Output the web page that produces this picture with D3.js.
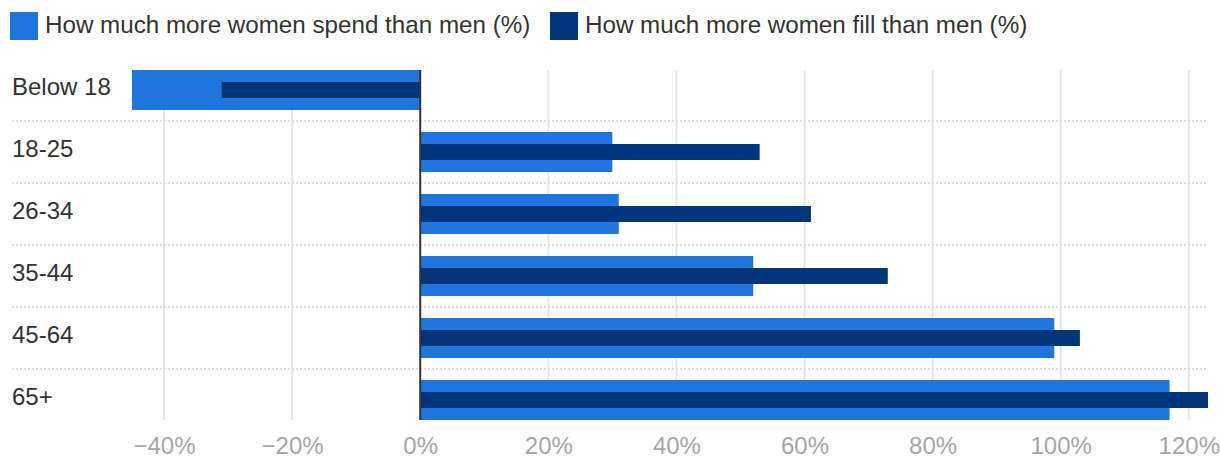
<!DOCTYPE html>
<html>
<head>
<meta charset="utf-8">
<script src="https://cdn.jsdelivr.net/npm/d3@7"></script>
<style>
  body { margin: 0; background: #fff; }
  svg { display: block; font-family: "Liberation Sans", Arial, Helvetica, sans-serif; }
</style>
</head>
<body>
<svg id="chart" width="1220" height="464"></svg>
<script>
const ageGroups = ["Below 18", "18-25", "26-34", "35-44", "45-64", "65+"]
const spendMore = [-45, 30, 31, 52, 99, 117]
const fillMore = [-31, 53, 61, 73, 103, 123]
const tickValues = [-40, -20, 0, 20, 40, 60, 80, 100, 120]
const seriesNames = ["How much more women spend than men (%)", "How much more women fill than men (%)"]

const lightBlue = "#1f77dd"
const darkBlue = "#02367a"

var svg = d3.select("#chart")

let allValues = spendMore.concat(fillMore)
let x = d3
  .scaleLinear()
  .domain([d3.min(allValues), d3.max(allValues)])
  .range([132, 1208])

// step of 62px, bars 40px tall
let y = d3
  .scaleBand()
  .domain(ageGroups)
  .range([59, 431])
  .paddingInner(22 / 62)
  .paddingOuter(11 / 62)

let plotTop = y(ageGroups[0])
let plotBottom = y(ageGroups[ageGroups.length - 1]) + y.bandwidth()

// vertical gridlines
svg
  .append("g")
  .selectAll("line")
  .data(tickValues.filter(d => d !== 0))
  .enter()
  .append("line")
  .attr("x1", d => x(d))
  .attr("x2", d => x(d))
  .attr("y1", plotTop)
  .attr("y2", plotBottom)
  .attr("stroke", "#e6e6e6")
  .attr("stroke-width", 2)

// dotted row separators
svg
  .append("g")
  .selectAll("line")
  .data(ageGroups.slice(0, -1))
  .enter()
  .append("line")
  .attr("x1", 12)
  .attr("x2", x.range()[1])
  .attr("y1", d => y(d) + y.bandwidth() + y.step() * y.paddingInner() / 2)
  .attr("y2", d => y(d) + y.bandwidth() + y.step() * y.paddingInner() / 2)
  .attr("stroke", "#dcdcdc")
  .attr("stroke-width", 2)
  .attr("stroke-dasharray", "2,2")

let rows = ageGroups.map((g, i) => ({ group: g, spend: spendMore[i], fill: fillMore[i] }))

svg
  .append("g")
  .selectAll("rect")
  .data(rows)
  .enter()
  .append("rect")
  .attr("x", d => x(Math.min(0, d.spend)))
  .attr("width", d => Math.abs(x(d.spend) - x(0)))
  .attr("y", d => y(d.group))
  .attr("height", y.bandwidth())
  .attr("fill", lightBlue)

let innerH = 16
svg
  .append("g")
  .selectAll("rect")
  .data(rows)
  .enter()
  .append("rect")
  .attr("x", d => x(Math.min(0, d.fill)))
  .attr("width", d => Math.abs(x(d.fill) - x(0)))
  .attr("y", d => y(d.group) + (y.bandwidth() - innerH) / 2)
  .attr("height", innerH)
  .attr("fill", darkBlue)

// zero line
svg
  .append("line")
  .attr("x1", x(0))
  .attr("x2", x(0))
  .attr("y1", plotTop)
  .attr("y2", plotBottom)
  .attr("stroke", "#333")
  .attr("stroke-width", 2)

// category labels
svg
  .append("g")
  .selectAll("text")
  .data(ageGroups)
  .enter()
  .append("text")
  .attr("x", 12)
  .attr("y", d => y(d) + y.bandwidth() / 2 + 5)
  .attr("font-size", 24)
  .attr("fill", "#333")
  .text(d => d)

// x axis labels
let xAxis = d3
  .axisBottom(x)
  .tickValues(tickValues)
  .tickFormat(d => d3.format("d")(d) + "%")
  .tickSize(0)
  .tickPadding(0)

let axisG = svg
  .append("g")
  .attr("transform", "translate(0," + plotBottom + ")")
  .call(xAxis)
axisG.select(".domain").remove()
axisG
  .selectAll("text")
  .attr("dy", null)
  .attr("y", 34)
  .attr("font-size", 24)
  .attr("font-family", "Liberation Sans, Arial, sans-serif")
  .attr("fill", "#a6a6a6")

// legend
let legendX = [10, 550]
let legend = svg
  .append("g")
  .selectAll("g")
  .data(seriesNames)
  .enter()
  .append("g")
  .attr("transform", (d, i) => "translate(" + legendX[i] + ",12)")

legend
  .append("rect")
  .attr("width", 28)
  .attr("height", 28)
  .attr("fill", (d, i) => (i === 0 ? lightBlue : darkBlue))

legend
  .append("text")
  .attr("x", 35)
  .attr("y", 21)
  .attr("font-size", 24.2)
  .attr("fill", "#333")
  .text(d => d)
</script>
</body>
</html>
